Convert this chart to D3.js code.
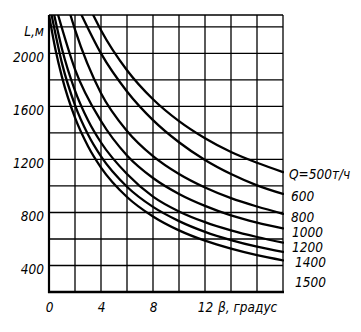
<!DOCTYPE html>
<html>
<head>
<meta charset="utf-8">
<script src="https://cdn.jsdelivr.net/npm/d3@7/dist/d3.min.js"></script>
<style>
  html, body { margin: 0; padding: 0; background: #fff; }
  svg { display: block; }
  .lbl { font-family: "Liberation Sans Narrow", "DejaVu Sans Condensed", sans-serif; font-style: italic; font-size: 13.5px; fill: #000; }
</style>
</head>
<body>
<svg id="chart" width="361" height="332"></svg>
<script>
// Conveyor length L (m) against inclination angle β (deg) for several throughputs Q (t/h)
const flows = [500, 600, 800, 1000, 1200, 1400, 1500];

const beta500  = [3.4, 4, 6, 8, 10, 12, 14, 16, 18];
const len500   = [2290, 2175, 1873, 1654, 1489, 1360, 1256, 1175, 1105];
const beta600  = [2.5, 4, 6, 8, 10, 12, 14, 16, 18];
const len600   = [2290, 2000, 1713, 1497, 1330, 1196, 1090, 1005, 940];
const beta800  = [1.65, 2, 4, 6, 8, 10, 12, 14, 16, 18];
const len800   = [2290, 2180, 1700, 1415, 1225, 1090, 988, 908, 845, 790];
const beta1000 = [0.7, 2, 4, 6, 8, 10, 12, 14, 16, 18];
const len1000  = [2290, 1880, 1490, 1230, 1060, 940, 850, 778, 724, 680];
const beta1200 = [0.4, 1, 2, 3, 4, 6, 8, 10, 12, 14, 16, 18];
const len1200  = [2290, 2034, 1720, 1496, 1328, 1090, 920, 808, 727, 665, 615, 573];
const beta1400 = [0.2, 1, 2, 3, 4, 6, 8, 10, 12, 14, 16, 18];
const len1400  = [2290, 1925, 1610, 1388, 1223, 994, 842, 735, 654, 592, 542, 502];
const beta1500 = [0, 0.5, 1, 2, 3, 4, 6, 8, 10, 12, 14, 16, 18];
const len1500  = [2290, 2028, 1821, 1515, 1300, 1139, 917, 770, 665, 587, 527, 478, 439];

const xTickLabels = [0, 4, 8, 12];
const yTickLabels = [400, 800, 1200, 1600, 2000];
const yAxisName = "L,м";
const xAxisName = "β, градус";
const unitText = "т/ч";

const betas = [beta500, beta600, beta800, beta1000, beta1200, beta1400, beta1500];
const lens  = [len500, len600, len800, len1000, len1200, len1400, len1500];
const series = flows.map((q, i) => ({
  q,
  pts: betas[i].map((b, j) => ({ b, L: lens[i][j] }))
}));

const svg = d3.select("#chart");
const x = d3.scaleLinear().domain([0, 18]).range([49, 283]);
const y = d3.scaleLinear().domain([200, 2290]).range([292, 15]);

// grid
const gx = d3.range(2, 18.01, 2);
const gy = d3.range(400, 2200.01, 200);
svg.append("g").selectAll("line").data(gx).join("line")
  .attr("x1", d => x(d)).attr("x2", d => x(d))
  .attr("y1", y(200)).attr("y2", y(2290))
  .attr("stroke", "#000").attr("stroke-width", 1.3);
svg.append("g").selectAll("line").data(gy).join("line")
  .attr("x1", x(0)).attr("x2", x(18))
  .attr("y1", d => y(d)).attr("y2", d => y(d))
  .attr("stroke", "#000").attr("stroke-width", 1.3);
// top edge
svg.append("line")
  .attr("x1", x(0)).attr("x2", x(18)).attr("y1", y(2290)).attr("y2", y(2290))
  .attr("stroke", "#000").attr("stroke-width", 1.4);

// axes
svg.append("line")
  .attr("x1", x(0)).attr("x2", x(0)).attr("y1", y(200) + 1).attr("y2", y(2290))
  .attr("stroke", "#000").attr("stroke-width", 2.2);
svg.append("line")
  .attr("x1", x(0) - 1).attr("x2", x(18) + 1).attr("y1", y(200)).attr("y2", y(200))
  .attr("stroke", "#000").attr("stroke-width", 2.6);

// curves
svg.append("clipPath").attr("id", "plot").append("rect")
  .attr("x", x(0)).attr("y", y(2290)).attr("width", x(18) - x(0) + 1).attr("height", y(200) - y(2290));
const line = d3.line().x(d => x(d.b)).y(d => y(d.L)).curve(d3.curveMonotoneX);
svg.append("g").attr("clip-path", "url(#plot)")
  .selectAll("path").data(series).join("path")
  .attr("d", d => line(d.pts))
  .attr("fill", "none").attr("stroke", "#000").attr("stroke-width", 2.3)
  .attr("stroke-linecap", "round");

// y tick labels
const yAxis = d3.axisLeft(y).tickValues(yTickLabels.concat([2200])).tickSize(0).tickPadding(0)
  .tickFormat(d => d === 2200 ? yAxisName : d);
const ya = svg.append("g").attr("transform", `translate(${x(0) - 5},4)`).call(yAxis);
ya.select(".domain").remove();
ya.selectAll("text").attr("class", "lbl").attr("font-family", null).attr("font-size", null);

// x tick labels
const xAxis = d3.axisBottom(x).tickValues(xTickLabels).tickSize(0).tickPadding(0);
const xa = svg.append("g").attr("transform", `translate(0,${y(200) + 10})`).call(xAxis);
xa.select(".domain").remove();
xa.selectAll("text").attr("class", "lbl").attr("font-family", null).attr("font-size", null);

svg.append("text").attr("class", "lbl")
  .attr("x", x(13)).attr("y", y(200) + 20)
  .text(xAxisName);

// curve labels at the right end
const labelNudge = [2, 2, 3, 4, 5, 10.5, 22];
const labelShift = [6, 8, 8, 9, 9, 12, 12];
svg.append("g").selectAll("text").data(series).join("text")
  .attr("class", "lbl")
  .attr("x", (d, i) => x(18) + labelShift[i])
  .attr("y", (d, i) => y(d.pts[d.pts.length - 1].L) + labelNudge[i])
  .attr("dy", "0.35em")
  .text((d, i) => i === 0 ? `Q=${d.q}${unitText}` : d.q);
</script>
</body>
</html>
